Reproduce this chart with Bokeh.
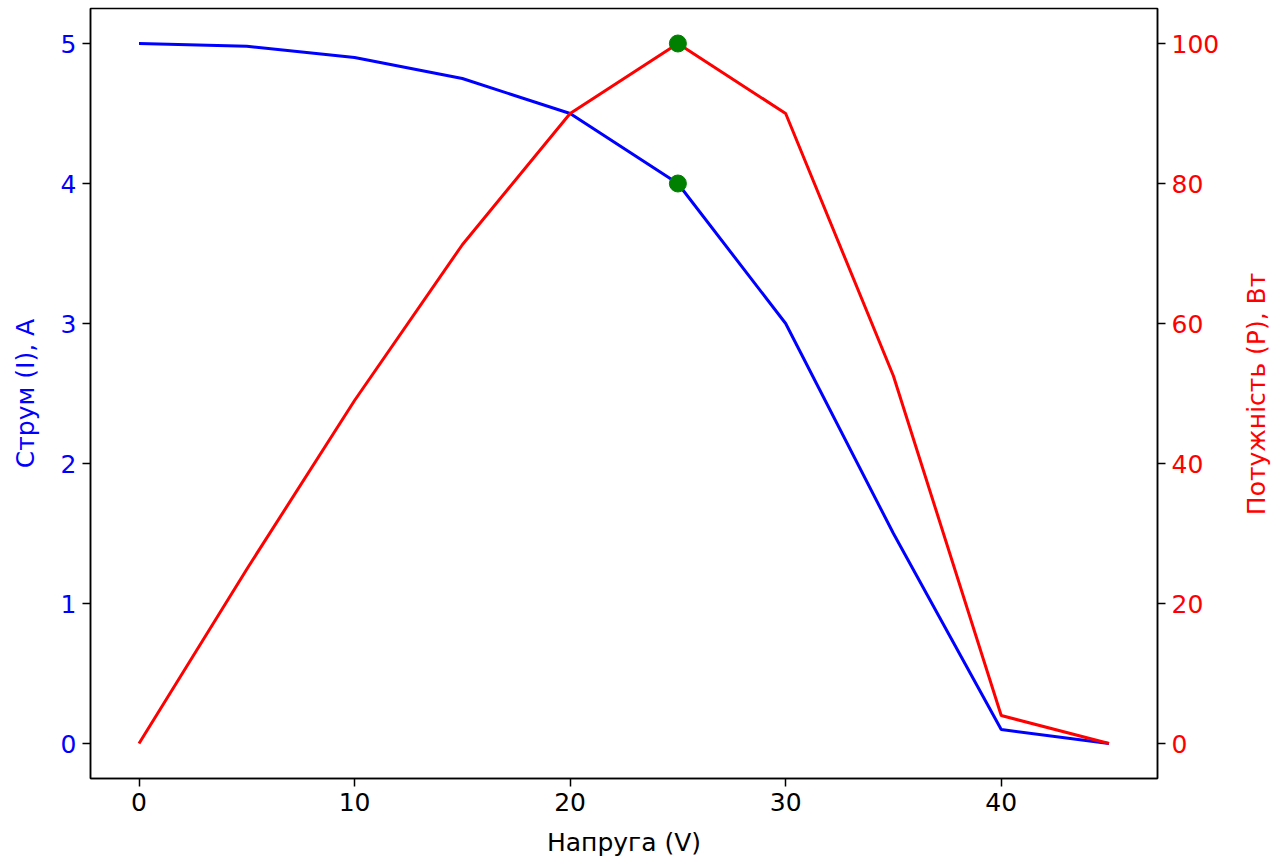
import math
from bokeh.plotting import figure
from bokeh.layouts import row
from bokeh.models import Range1d, LinearAxis, FixedTicker, Label
from bokeh.embed import file_html
from bokeh.resources import INLINE

voltage = [0, 5, 10, 15, 20, 25, 30, 35, 40, 45]
current = [5.0, 4.98, 4.9, 4.75, 4.5, 4.0, 3.0, 1.5, 0.1, 0.0]
power = [0, 24.9, 49.0, 71.25, 90.0, 100.0, 90.0, 52.5, 4.0, 0.0]
mpp_v = [25]
mpp_i = [4.0]
mpp_p = [100.0]

x_ticks = [0, 10, 20, 30, 40]
i_ticks = [0, 1, 2, 3, 4, 5]
p_ticks = [0, 20, 40, 60, 80, 100]

FONT = "DejaVu Sans"
FS = "25px"

W, H = 1278, 865
SIDE_W = 40                      # strip holding the right-hand axis title
BL, BR, BT, BB = 90, 121 - SIDE_W, 8, 87
X0, X1 = -2.25, 47.25
P0, P1 = -5, 105

p = figure(width=W - SIDE_W, height=H, output_backend="svg", toolbar_location=None,
           x_range=Range1d(X0, X1), y_range=Range1d(-0.25, 5.25),
           min_border_left=BL, min_border_right=BR, min_border_top=BT, min_border_bottom=BB)
p.extra_y_ranges = {"power": Range1d(P0, P1)}

p.grid.visible = False
p.outline_line_color = "black"
p.outline_line_width = 1.5
p.background_fill_color = "white"
p.border_fill_color = "white"


def style(ax, color, label_color):
    ax.axis_label_text_font = FONT
    ax.axis_label_text_font_style = "normal"
    ax.axis_label_text_font_size = FS
    ax.axis_label_text_color = label_color
    ax.major_label_text_font = FONT
    ax.major_label_text_font_size = FS
    ax.major_label_text_color = color
    ax.minor_tick_line_color = None
    ax.major_tick_out = 8
    ax.major_tick_in = 0
    ax.major_tick_line_width = 1.5
    ax.axis_line_width = 1.5
    ax.major_label_standoff = 6


# x axis
xa = p.xaxis[0]
xa.ticker = FixedTicker(ticks=x_ticks)
xa.axis_label = "Напруга (V)"
style(xa, "black", "black")
xa.axis_label_standoff = 14

# left axis
ya = p.yaxis[0]
ya.ticker = FixedTicker(ticks=i_ticks)
ya.axis_label = "Струм (I), A"
style(ya, "blue", "blue")
ya.axis_label_standoff = 18

# right axis with ticks
ra = LinearAxis(y_range_name="power", ticker=FixedTicker(ticks=p_ticks))
style(ra, "red", "red")
p.add_layout(ra, "right")

p.line(voltage, current, line_color="blue", line_width=3)
p.line(voltage, power, line_color="red", line_width=3, y_range_name="power")
p.scatter(mpp_v, mpp_i, size=17, fill_color="green", line_color="green")
p.scatter(mpp_v, mpp_p, size=17, fill_color="green", line_color="green", y_range_name="power")

# narrow strip to the right carrying the bottom-to-top axis title
side = figure(width=SIDE_W, height=H, output_backend="svg", toolbar_location=None,
              x_range=Range1d(0, 1), y_range=Range1d(0, 1),
              x_axis_type=None, y_axis_type=None, min_border=0)
side.grid.visible = False
side.outline_line_color = None
side.background_fill_color = "white"
side.border_fill_color = "white"
label_mid = BT + (H - BT - BB) / 2 + 40
side.add_layout(Label(x=0.45, y=1 - label_mid / H, text="Потужність (P), Вт",
                      angle=math.pi / 2, text_align="center", text_baseline="middle",
                      text_font=FONT, text_font_size=FS, text_color="red"))

layout = row(p, side)
open("out.html", "w").write(file_html(layout, INLINE))
